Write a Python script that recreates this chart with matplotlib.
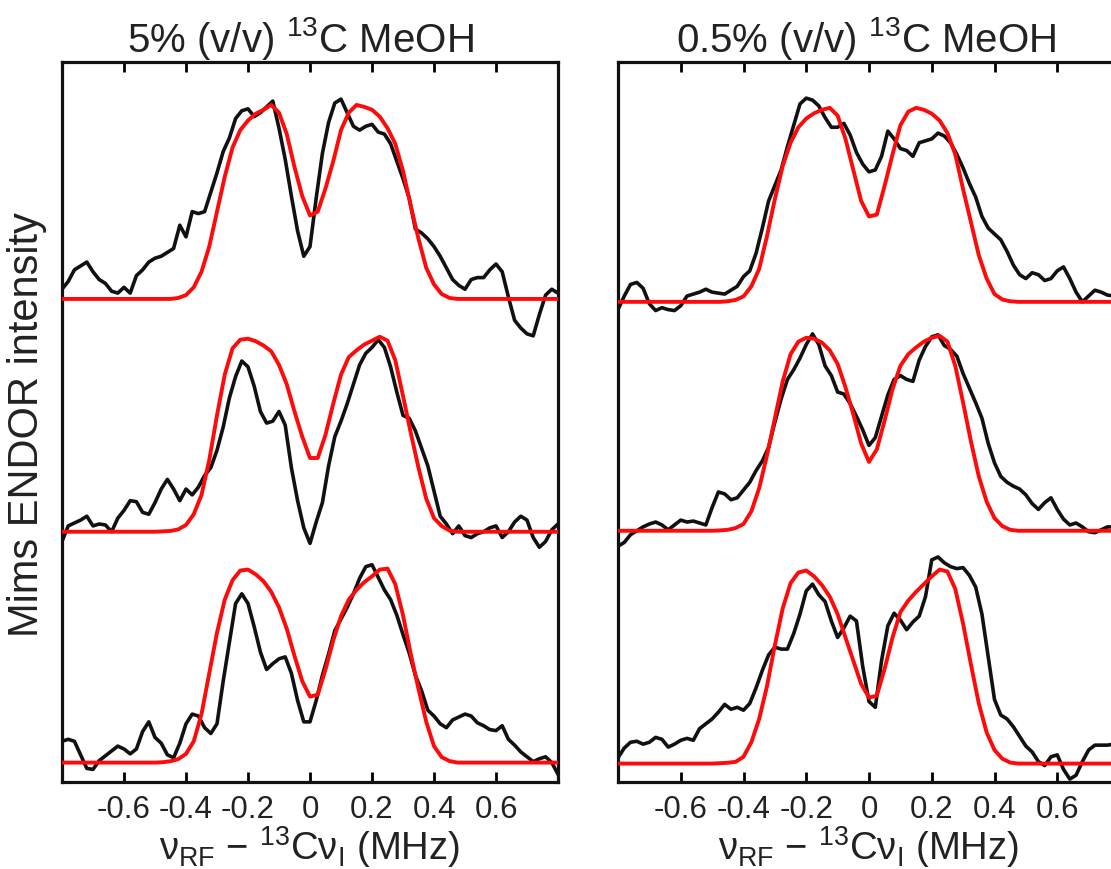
import numpy as np
import matplotlib
matplotlib.use("Agg")
import matplotlib.pyplot as plt

plt.rcParams["font.family"] = ["Liberation Sans", "DejaVu Sans"]
plt.rcParams["mathtext.fontset"] = "custom"
plt.rcParams["mathtext.rm"] = "Liberation Sans"
plt.rcParams["mathtext.default"] = "regular"

# ---- data -------------------------------------------------------------
# experimental traces sampled every 0.02 MHz from -0.8 to 0.8
freq_exp = np.linspace(-0.8, 0.8, 81)
# simulated traces: flat ends plus a 0.025 MHz grid from -0.5 to 0.5
freq_sim = np.concatenate([[-0.8], np.linspace(-0.5, 0.5, 41), [0.8]])

titles = ["5% (v/v) $^{13}$C MeOH", "0.5% (v/v) $^{13}$C MeOH"]
tick_values = [-0.6, -0.4, -0.2, 0, 0.2, 0.4, 0.6]
tick_labels = ["-0.6", "-0.4", "-0.2", "0", "0.2", "0.4", "0.6"]
xlabel = "ν$_{RF}$ − $^{13}$Cν$_{I}$ (MHz)"
ylabel = "Mims ENDOR intensity"

# 5 % 13C MeOH : experimental (top, middle, bottom)
exp_5_top = [0.05, 0.09, 0.15, 0.17, 0.19, 0.14, 0.10, 0.08, 0.04, 0.03,
             0.06, 0.03, 0.12, 0.15, 0.19, 0.21, 0.22, 0.24, 0.26, 0.38,
             0.32, 0.45, 0.44, 0.45, 0.55, 0.65, 0.76, 0.83, 0.93, 0.97,
             0.98, 0.94, 0.96, 0.99, 1.02, 0.88, 0.72, 0.53, 0.35, 0.22,
             0.27,
             0.52, 0.75, 0.91, 1.01, 1.03, 0.96, 0.89, 0.87, 0.89, 0.90,
             0.86, 0.85, 0.80, 0.71, 0.62, 0.52, 0.36, 0.34, 0.31, 0.27,
             0.22, 0.16, 0.10, 0.07, 0.05, 0.10, 0.11, 0.11, 0.15, 0.18,
             0.14, 0.01, -0.11, -0.15, -0.18, -0.19, -0.08, 0.02, 0.05, 0.03]
exp_5_mid = [-0.05, 0.03, 0.045, 0.06, 0.08, 0.03, 0.04, 0.035, 0.00, 0.07,
             0.11, 0.16, 0.155, 0.10, 0.09, 0.15, 0.22, 0.27, 0.22, 0.16,
             0.22, 0.19, 0.23, 0.29, 0.33, 0.42, 0.54, 0.69, 0.80, 0.88,
             0.85, 0.75, 0.62, 0.56, 0.57, 0.62, 0.55, 0.33, 0.16, 0.02,
             -0.06,
             0.05, 0.15, 0.34, 0.49, 0.57, 0.66, 0.76, 0.86, 0.92, 0.95,
             0.99, 0.95, 0.85, 0.72, 0.60, 0.585, 0.52, 0.43, 0.34, 0.21,
             0.08, 0.04, -0.01, 0.03, -0.02, -0.03, -0.01, 0.00, 0.02, 0.03,
             -0.03, 0.00, 0.05, 0.08, 0.06, -0.03, -0.08, -0.05, 0.01, 0.04]
exp_5_bot = [0.11, 0.12, 0.11, 0.04, -0.03, -0.035, 0.01, 0.035, 0.06, 0.085,
             0.07, 0.045, 0.07, 0.16, 0.21, 0.13, 0.10, 0.04, 0.025, 0.10,
             0.20, 0.25, 0.24, 0.18, 0.15, 0.20, 0.42, 0.62, 0.82, 0.87,
             0.82, 0.70, 0.57, 0.48, 0.51, 0.535, 0.545, 0.46, 0.32, 0.21,
             0.21,
             0.32, 0.45, 0.56, 0.68, 0.74, 0.80, 0.87, 0.95, 1.01, 1.02,
             0.955, 0.89, 0.84, 0.76, 0.66, 0.565, 0.45, 0.37, 0.27, 0.24,
             0.20, 0.18, 0.22, 0.235, 0.25, 0.24, 0.205, 0.19, 0.17, 0.165,
             0.19, 0.12, 0.09, 0.055, 0.03, 0.005, 0.02, 0.03, 0.00, -0.06]

# 5 % 13C MeOH : simulations
sim_5_top = [0, 0, 0, 0.0, 0.005, 0.02, 0.06, 0.14, 0.27, 0.45, 0.63,
             0.78, 0.87, 0.92, 0.955, 0.975, 1.0, 0.96, 0.85, 0.68, 0.53,
             0.43,
             0.45, 0.57, 0.71, 0.87, 0.96, 1.0, 0.99, 0.975, 0.94, 0.88,
             0.80, 0.66, 0.48, 0.31, 0.16, 0.075, 0.025, 0.005, 0, 0, 0]
sim_5_mid = [0, 0, 0.002, 0.004, 0.012, 0.035, 0.09, 0.19, 0.37, 0.60, 0.81,
             0.945, 0.99, 0.995, 0.982, 0.96, 0.93, 0.86, 0.76, 0.62, 0.49,
             0.38,
             0.38, 0.50, 0.66, 0.81, 0.90, 0.935, 0.965, 0.985, 1.005, 0.985,
             0.885, 0.70, 0.51, 0.33, 0.17, 0.07, 0.029, 0.006, 0, 0, 0]
sim_5_bot = [0, 0, 0.002, 0.007, 0.018, 0.045, 0.11, 0.25, 0.46, 0.67, 0.84,
             0.94, 0.99, 0.995, 0.97, 0.935, 0.88, 0.80, 0.69, 0.55, 0.42,
             0.34,
             0.35, 0.48, 0.63, 0.755, 0.84, 0.89, 0.93, 0.96, 0.995, 1.0,
             0.92, 0.76, 0.56, 0.38, 0.21, 0.085, 0.028, 0.008, 0, 0, 0]

# 0.5 % 13C MeOH : experimental (top, middle, bottom)
exp_05_top = [-0.04, 0.03, 0.09, 0.10, 0.07, -0.01, -0.045, -0.03, -0.04, -0.045,
              -0.02, 0.03, 0.04, 0.05, 0.065, 0.05, 0.045, 0.04, 0.06, 0.08,
              0.13, 0.16, 0.25, 0.38, 0.52, 0.60, 0.68, 0.80, 0.91, 1.02,
              1.05, 1.04, 1.01, 0.95, 0.90, 0.90, 0.92, 0.86, 0.77, 0.71,
              0.67,
              0.68, 0.75, 0.88, 0.84, 0.79, 0.78, 0.75, 0.82, 0.83, 0.84,
              0.87, 0.855, 0.82, 0.76, 0.69, 0.61, 0.54, 0.44, 0.38, 0.35,
              0.32, 0.26, 0.19, 0.14, 0.12, 0.15, 0.14, 0.11, 0.12, 0.16,
              0.18, 0.12, 0.05, 0.00, 0.03, 0.06, 0.05, 0.035, 0.03, 0.02]
exp_05_mid = [-0.08, -0.06, -0.02, 0.00, 0.02, 0.035, 0.045, 0.03, 0.005, 0.03,
              0.055, 0.045, 0.05, 0.04, 0.03, 0.12, 0.20, 0.19, 0.16, 0.17,
              0.21, 0.25, 0.31, 0.36, 0.43, 0.56, 0.68, 0.78, 0.83, 0.89,
              0.96, 1.015, 0.96, 0.85, 0.80, 0.715, 0.705, 0.655, 0.59, 0.52,
              0.44,
              0.48, 0.59, 0.70, 0.78, 0.80, 0.78, 0.77, 0.88, 0.95, 1.00,
              1.01, 0.955, 0.935, 0.90, 0.81, 0.735, 0.66, 0.58, 0.45, 0.35,
              0.28, 0.25, 0.23, 0.215, 0.185, 0.14, 0.11, 0.145, 0.17, 0.11,
              0.06, 0.03, 0.04, 0.02, -0.005, -0.01, 0.005, 0.02, 0.02, 0.02]
exp_05_bot = [0.03, 0.08, 0.11, 0.115, 0.10, 0.11, 0.135, 0.125, 0.085, 0.10,
              0.12, 0.13, 0.12, 0.18, 0.205, 0.23, 0.265, 0.305, 0.28, 0.29,
              0.275, 0.31, 0.39, 0.48, 0.56, 0.60, 0.59, 0.59, 0.67, 0.77,
              0.89, 0.925, 0.87, 0.835, 0.735, 0.65, 0.70, 0.76, 0.735, 0.50,
              0.32,
              0.29, 0.53, 0.71, 0.775, 0.74, 0.69, 0.73, 0.76, 0.86, 1.05,
              1.065, 1.035, 1.015, 1.005, 1.01, 0.97, 0.91, 0.77, 0.55, 0.33,
              0.25, 0.23, 0.19, 0.14, 0.09, 0.06, 0.01, -0.01, 0.035, 0.045,
              -0.03, -0.08, -0.06, 0.01, 0.07, 0.095, 0.095, 0.095, 0.10, 0.10]

# 0.5 % 13C MeOH : simulations
sim_05_top = [0, 0, 0, 0.003, 0.01, 0.028, 0.08, 0.17, 0.34, 0.53, 0.70,
              0.82, 0.90, 0.945, 0.972, 0.99, 1.0, 0.96, 0.84, 0.68, 0.52,
              0.44,
              0.45, 0.60, 0.76, 0.91, 0.98, 1.0, 0.99, 0.97, 0.935, 0.87,
              0.76, 0.58, 0.41, 0.24, 0.12, 0.04, 0.012, 0.003, 0, 0, 0]
sim_05_mid = [0, 0, 0.002, 0.005, 0.014, 0.035, 0.10, 0.22, 0.39, 0.58, 0.77,
              0.91, 0.975, 0.995, 0.99, 0.97, 0.93, 0.86, 0.74, 0.60, 0.45,
              0.355,
              0.42, 0.57, 0.73, 0.85, 0.91, 0.945, 0.975, 0.995, 1.005, 0.975,
              0.85, 0.66, 0.46, 0.28, 0.15, 0.065, 0.024, 0.005, 0, 0, 0]
sim_05_bot = [0, 0, 0.002, 0.004, 0.009, 0.035, 0.11, 0.23, 0.40, 0.61, 0.80,
              0.93, 0.985, 0.995, 0.965, 0.92, 0.86, 0.77, 0.65, 0.53, 0.41,
              0.34,
              0.35, 0.49, 0.65, 0.78, 0.84, 0.885, 0.925, 0.965, 1.0, 0.99,
              0.90, 0.72, 0.51, 0.31, 0.16, 0.07, 0.025, 0.005, 0, 0, 0]

# vertical stacking of the three traces in each panel
offsets_5 = [2.49, 1.29, 0.10]
offsets_05 = [2.475, 1.295, 0.095]

panels = [
    (titles[0], [exp_5_top, exp_5_mid, exp_5_bot],
     [sim_5_top, sim_5_mid, sim_5_bot], offsets_5),
    (titles[1], [exp_05_top, exp_05_mid, exp_05_bot],
     [sim_05_top, sim_05_mid, sim_05_bot], offsets_05),
]

# ---- figure -------------------------------------------------------------
W, H = 1111, 869
fig = plt.figure(figsize=(W / 100, H / 100), dpi=100)

ax_rects = [
    [62 / W, (H - 782) / H, 496 / W, 720 / H],
    [618 / W, (H - 782) / H, 502 / W, 720 / H],
]
title_x = [300 / W, 866 / W]
text_color = "#222222"

for rect, tx, (title, exps, sims, offs) in zip(ax_rects, title_x, panels):
    ax = fig.add_axes(rect)
    for e, s, off in zip(exps, sims, offs):
        ax.plot(freq_exp, np.asarray(e) + off, color="#111111", lw=2.6,
                solid_joinstyle="round", zorder=2)
        ax.plot(freq_sim, np.asarray(s) + off, color="#ff0a0a", lw=2.8,
                solid_joinstyle="round", zorder=3)
    ax.set_xlim(-0.8, 0.8)
    ax.set_ylim(0, 720 / 194)
    ax.set_yticks([])
    ax.set_xticks(tick_values)
    ax.set_xticklabels(tick_labels)
    ax.tick_params(axis="x", direction="in", top=True, bottom=True,
                   length=7, width=2, labelsize=22.5, pad=9,
                   labelcolor=text_color)
    for sp in ax.spines.values():
        sp.set_linewidth(2.3)
        sp.set_color("#111111")
    ax.set_xlabel(xlabel, fontsize=27.5, color=text_color, labelpad=0)
    fig.text(tx, 1 - 38 / H, title, fontsize=29, ha="center", va="center",
             color=text_color)

fig.text(27 / W, 1 - 425 / H, ylabel, rotation=90, fontsize=30,
         ha="center", va="center", color=text_color)

fig.savefig("out.png", dpi=100)
